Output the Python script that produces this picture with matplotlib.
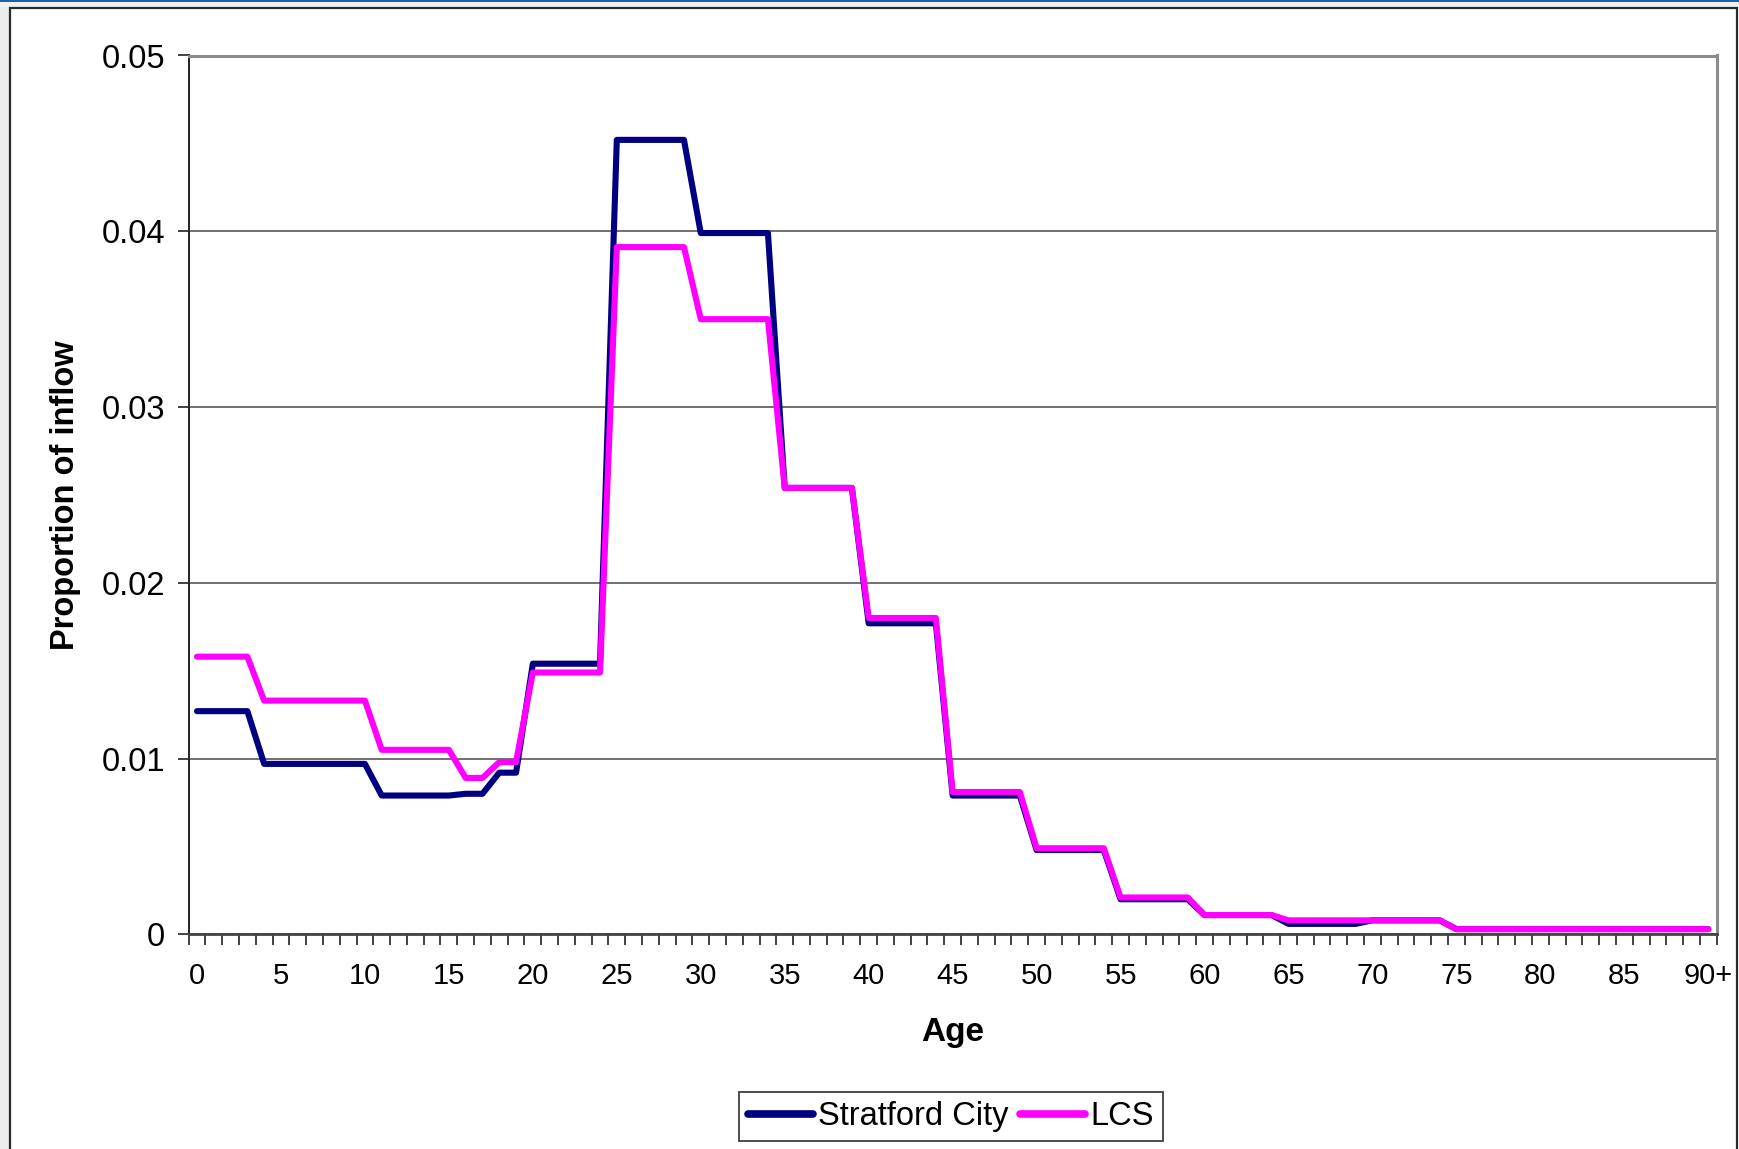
import matplotlib
matplotlib.use("Agg")
import matplotlib.pyplot as plt
from matplotlib.patches import Rectangle
from matplotlib.ticker import FixedLocator, NullFormatter

plt.rcParams['font.family'] = ['Liberation Sans', 'DejaVu Sans']

# Single-year ages 0..90+ (categories)
ages = list(range(91))
age_labels = ["0", "5", "10", "15", "20", "25", "30", "35", "40", "45",
              "50", "55", "60", "65", "70", "75", "80", "85", "90+"]

# Proportion of inflow by single year of age
stratford_city = [
    0.0127, 0.0127, 0.0127, 0.0127,                                   # 0-3
    0.0097, 0.0097, 0.0097, 0.0097, 0.0097, 0.0097, 0.0097,           # 4-10
    0.0079, 0.0079, 0.0079, 0.0079, 0.0079,                           # 11-15
    0.0080, 0.0080,                                                   # 16-17
    0.0092, 0.0092,                                                   # 18-19
    0.0154, 0.0154, 0.0154, 0.0154, 0.0154,                           # 20-24
    0.0452, 0.0452, 0.0452, 0.0452, 0.0452,                           # 25-29
    0.0399, 0.0399, 0.0399, 0.0399, 0.0399,                           # 30-34
    0.0254, 0.0254, 0.0254, 0.0254, 0.0254,                           # 35-39
    0.0177, 0.0177, 0.0177, 0.0177, 0.0177,                           # 40-44
    0.0079, 0.0079, 0.0079, 0.0079, 0.0079,                           # 45-49
    0.0048, 0.0048, 0.0048, 0.0048, 0.0048,                           # 50-54
    0.0020, 0.0020, 0.0020, 0.0020, 0.0020,                           # 55-59
    0.0011, 0.0011, 0.0011, 0.0011, 0.0011,                           # 60-64
    0.0006, 0.0006, 0.0006, 0.0006, 0.0006,                           # 65-69
    0.0008, 0.0008, 0.0008, 0.0008, 0.0008,                           # 70-74
    0.0003, 0.0003, 0.0003, 0.0003, 0.0003, 0.0003, 0.0003, 0.0003,   # 75-82
    0.0003, 0.0003, 0.0003, 0.0003, 0.0003, 0.0003, 0.0003, 0.0003,   # 83-90+
]

lcs = [
    0.0158, 0.0158, 0.0158, 0.0158,                                   # 0-3
    0.0133, 0.0133, 0.0133, 0.0133, 0.0133, 0.0133, 0.0133,           # 4-10
    0.0105, 0.0105, 0.0105, 0.0105, 0.0105,                           # 11-15
    0.0089, 0.0089,                                                   # 16-17
    0.0098, 0.0098,                                                   # 18-19
    0.0149, 0.0149, 0.0149, 0.0149, 0.0149,                           # 20-24
    0.0391, 0.0391, 0.0391, 0.0391, 0.0391,                           # 25-29
    0.0350, 0.0350, 0.0350, 0.0350, 0.0350,                           # 30-34
    0.0254, 0.0254, 0.0254, 0.0254, 0.0254,                           # 35-39
    0.0180, 0.0180, 0.0180, 0.0180, 0.0180,                           # 40-44
    0.0081, 0.0081, 0.0081, 0.0081, 0.0081,                           # 45-49
    0.0049, 0.0049, 0.0049, 0.0049, 0.0049,                           # 50-54
    0.0021, 0.0021, 0.0021, 0.0021, 0.0021,                           # 55-59
    0.0011, 0.0011, 0.0011, 0.0011, 0.0011,                           # 60-64
    0.0008, 0.0008, 0.0008, 0.0008, 0.0008,                           # 65-69
    0.0008, 0.0008, 0.0008, 0.0008, 0.0008,                           # 70-74
    0.0003, 0.0003, 0.0003, 0.0003, 0.0003, 0.0003, 0.0003, 0.0003,   # 75-82
    0.0003, 0.0003, 0.0003, 0.0003, 0.0003, 0.0003, 0.0003, 0.0003,   # 83-90+
]

y_ticks = [0, 0.01, 0.02, 0.03, 0.04, 0.05]
y_tick_labels = ["0", "0.01", "0.02", "0.03", "0.04", "0.05"]

W, H = 1740, 1149
fig = plt.figure(figsize=(W / 100, H / 100), dpi=100, facecolor="white")

# Surrounding slide background and chart border
fig.patches.append(Rectangle((0, 0), 9 / W, 1, transform=fig.transFigure,
                             facecolor="#ececec", edgecolor="none", zorder=0))
fig.patches.append(Rectangle((0, 1 - 7 / H), 1, 7 / H, transform=fig.transFigure,
                             facecolor="#eef2f7", edgecolor="none", zorder=0))
fig.patches.append(Rectangle((0, 1 - 2 / H), 1, 2 / H, transform=fig.transFigure,
                             facecolor="#1f62a3", edgecolor="none", zorder=0.2))
fig.patches.append(Rectangle((10 / W, -0.01), (1737.5 - 10) / W, 1.01 - 7.5 / H,
                             transform=fig.transFigure, facecolor="white",
                             edgecolor="#2a2a2a", linewidth=1.6, zorder=0.5))

left, right = 188.6 / W, 1716.7 / W
bottom, top = 1 - 934.4 / H, 1 - 55.5 / H
ax = fig.add_axes([left, bottom, right - left, top - bottom])
ax.set_zorder(2)
ax.set_facecolor("white")

ax.plot(ages, stratford_city, color="#000080", linewidth=4.4,
        solid_capstyle="round", solid_joinstyle="round", label="Stratford City", zorder=3)
ax.plot(ages, lcs, color="#ff00ff", linewidth=4.4,
        solid_capstyle="round", solid_joinstyle="round", label="LCS", zorder=4)

ax.set_xlim(-0.5, 90.5)
ax.set_ylim(0, 0.05)

# Category axis: tick marks between categories, labels every 5 years
ax.xaxis.set_major_locator(FixedLocator(ages[::5]))
ax.set_xticklabels(age_labels)
ax.xaxis.set_minor_locator(FixedLocator([a - 0.5 for a in ages] + [90.5]))
ax.xaxis.set_minor_formatter(NullFormatter())
ax.tick_params(axis="x", which="major", length=0, pad=20, labelsize=21)
ax.tick_params(axis="x", which="minor", length=8, width=1.2, color="#222222",
               direction="out")

ax.set_yticks(y_ticks)
ax.set_yticklabels(y_tick_labels)
ax.tick_params(axis="y", which="major", length=8, width=1.2, color="#222222",
               direction="out", pad=9, labelsize=23.5)

ax.grid(axis="y", color="#666666", linewidth=1.3, zorder=1)
ax.set_axisbelow(True)

for side in ("top", "right"):
    ax.spines[side].set_color("#8c8c8c")
    ax.spines[side].set_linewidth(2.2)
ax.spines["left"].set_color("#222222")
ax.spines["left"].set_linewidth(1.4)
ax.spines["bottom"].set_color("#444444")
ax.spines["bottom"].set_linewidth(2.0)

ax.set_ylabel("Proportion of inflow", fontsize=23.5, fontweight="bold", va="center")
ax.yaxis.set_label_coords((66 - 188.6) / 1528.1, 0.5)
ax.set_xlabel("Age", fontsize=24, fontweight="bold", va="center")
ax.xaxis.set_label_coords(0.5, (934.4 - 1032) / 878.9)

leg = fig.legend(loc="center", bbox_to_anchor=(951 / W, 1 - 1116.5 / H), ncol=2,
                 fontsize=23.5, frameon=True, fancybox=False, edgecolor="#111111",
                 handlelength=2.0, handletextpad=0.15, columnspacing=0.35,
                 borderpad=0.28, borderaxespad=0)
leg.set_zorder(3)
leg.get_frame().set_linewidth(1.3)
for line in leg.get_lines():
    line.set_linewidth(5.5)
    line.set_solid_capstyle("round")

fig.savefig("out.png", dpi=100, facecolor=fig.get_facecolor())
